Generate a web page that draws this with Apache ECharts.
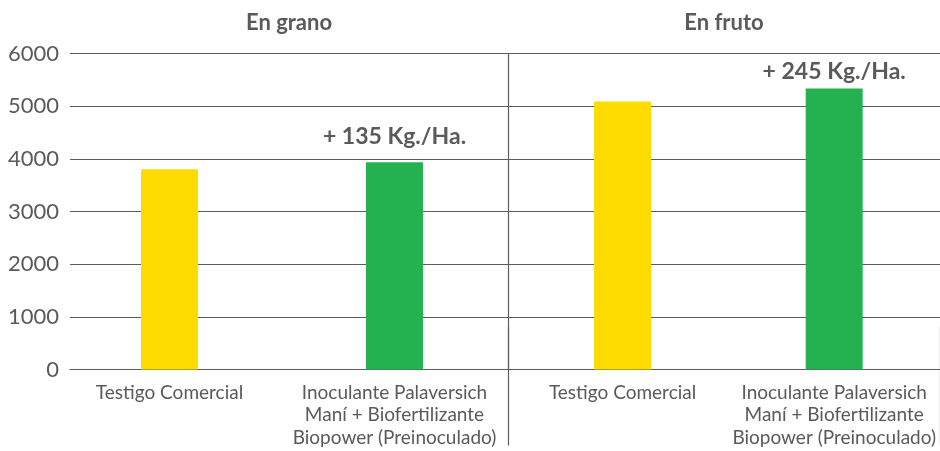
<!DOCTYPE html>
<html>
<head>
<meta charset="utf-8">
<script src="https://cdn.jsdelivr.net/npm/echarts@6/dist/echarts.min.js"></script>
<style>html,body{margin:0;padding:0;background:#fff}#c{width:940px;height:451px}</style>
</head>
<body>
<div id="c"></div>
<script>
var groupGrano = ['En grano'];
var groupFruto = ['En fruto'];
var categoriesGrano = ['Testigo Comercial', 'Inoculante Palaversich\nManí + Biofertilizante\nBiopower (Preinoculado)'];
var categoriesFruto = ['Testigo Comercial', 'Inoculante Palaversich\nManí + Biofertilizante\nBiopower (Preinoculado)'];
var valuesGrano = [3800, 3935];
var valuesFruto = [5090, 5335];
var labelsGrano = ['', '+ 135 Kg./Ha.'];
var labelsFruto = ['', '+ 245 Kg./Ha.'];
var yTicks = [0, 1000, 2000, 3000, 4000, 5000, 6000];

var barColors = ['#FFDC00', '#23B24F'];
var FONT = 'Lato';
var TXT = '#5a5a5a';
var LINE = '#5c5c5c';

function items(values, labels, distance) {
  return values.map(function (v, i) {
    return {
      value: v,
      itemStyle: { color: barColors[i] },
      label: { show: labels[i] !== '', formatter: labels[i], distance: distance }
    };
  });
}

var chart = echarts.init(document.getElementById('c'), null, { renderer: 'canvas' });
var gTop = 53.5, gBottom = 81.5;
var yMin = yTicks[0], yMax = yTicks[yTicks.length - 1];
var lineStyle = { color: LINE, width: 1.2 };
var headerLabel = { margin: 20, fontFamily: FONT, fontSize: 22, fontWeight: 'bold', color: TXT };
var catLabel = { margin: 12, fontFamily: FONT, fontSize: 19, lineHeight: 22.5, color: TXT, interval: 0 };
var barLabel = { position: 'top', fontFamily: FONT, fontSize: 23, fontWeight: 'bold', color: TXT };

var option = {
  animation: false,
  grid: [
    { left: 70, width: 438, top: gTop, bottom: gBottom },
    { left: 508, width: 438, top: gTop, bottom: gBottom },
    { left: 57, width: 450, top: gTop, bottom: gBottom },
    { left: 516.75, width: 433, top: gTop, bottom: gBottom }
  ],
  xAxis: [
    { gridIndex: 0, type: 'category', data: groupGrano, position: 'top',
      axisLine: { show: false }, axisTick: { show: false }, axisLabel: headerLabel },
    { gridIndex: 0, type: 'category', data: groupGrano, position: 'bottom',
      axisLine: { show: true, lineStyle: lineStyle }, axisTick: { show: false }, axisLabel: { show: false } },
    { gridIndex: 1, type: 'category', data: groupFruto, position: 'top',
      axisLine: { show: false },
      axisTick: { show: true, length: 43, lineStyle: lineStyle },
      axisLabel: headerLabel },
    { gridIndex: 1, type: 'category', data: groupFruto, position: 'bottom',
      axisLine: { show: true, lineStyle: lineStyle },
      axisTick: { show: true, length: 76, lineStyle: lineStyle },
      axisLabel: { show: false } },
    { gridIndex: 2, type: 'category', data: categoriesGrano,
      axisLine: { show: false }, axisTick: { show: false }, axisLabel: catLabel },
    { gridIndex: 3, type: 'category', data: categoriesFruto,
      axisLine: { show: false }, axisTick: { show: false }, axisLabel: catLabel }
  ],
  yAxis: [
    { gridIndex: 0, type: 'value', min: yMin, max: yMax, interval: 1000,
      axisLine: { show: false }, axisTick: { show: false },
      splitLine: { show: true, lineStyle: lineStyle },
      axisLabel: { margin: 11, fontFamily: FONT, fontSize: 22, color: TXT, formatter: function (v) { return String(v); } }
    },
    { gridIndex: 1, type: 'value', min: yMin, max: yMax, interval: 1000,
      axisLine: { show: true, lineStyle: lineStyle }, axisTick: { show: false },
      splitLine: { show: true, lineStyle: lineStyle },
      axisLabel: { show: false }
    },
    { gridIndex: 2, type: 'value', min: yMin, max: yMax, show: false, splitLine: { show: false } },
    { gridIndex: 3, type: 'value', min: yMin, max: yMax, show: false, splitLine: { show: false } }
  ],
  series: [
    { type: 'bar', xAxisIndex: 4, yAxisIndex: 2, barWidth: 57, z: 3,
      data: items(valuesGrano, labelsGrano, 14), label: barLabel },
    { type: 'bar', xAxisIndex: 5, yAxisIndex: 3, barWidth: 57, z: 3,
      data: items(valuesFruto, labelsFruto, 5), label: barLabel }
  ]
};
chart.setOption(option);
</script>
</body>
</html>
